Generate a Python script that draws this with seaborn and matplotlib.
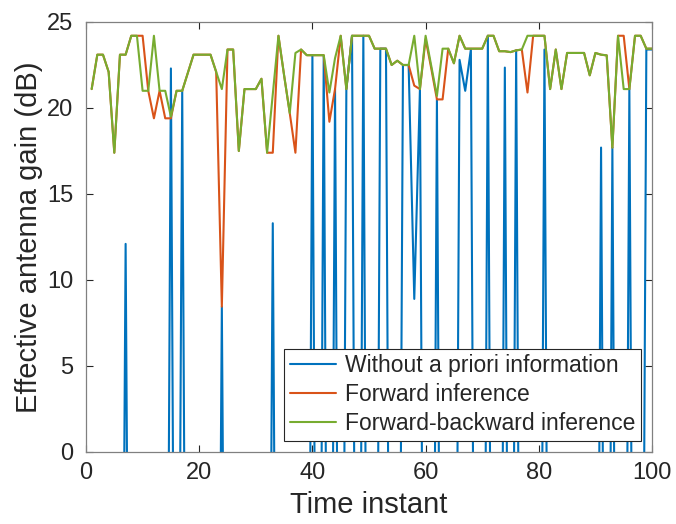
import matplotlib
matplotlib.use("Agg")
import matplotlib.pyplot as plt
import numpy as np
import pandas as pd
import seaborn as sns

LOW = -40.0  # gain floor when the beam misses (drawn below the visible range)

time_instant = list(range(1, 101))

without_prior = [
    LOW, LOW, LOW, LOW, LOW, LOW, 12.1, LOW, LOW, LOW,
    LOW, LOW, LOW, LOW, 22.3, LOW, 21.0, LOW, LOW, LOW,
    LOW, LOW, LOW, 8.45, LOW, LOW, LOW, LOW, LOW, LOW,
    LOW, LOW, 13.3, LOW, LOW, LOW, LOW, LOW, LOW, 23.07,
    LOW, 23.0, LOW, 21.1, LOW, 21.1, 24.2, LOW, 24.2, LOW,
    LOW, 23.45, 23.45, LOW, LOW, 22.5, 22.5, 8.9, 21.1, LOW,
    LOW, 20.5, LOW, LOW, LOW, 22.8, 21.0, 23.4, LOW, LOW,
    24.2, LOW, LOW, 22.35, LOW, 23.35, LOW, LOW, LOW, LOW,
    23.4, LOW, LOW, LOW, LOW, LOW, LOW, LOW, LOW, LOW,
    17.7, LOW, 17.7, LOW, LOW, 21.1, LOW, LOW, 23.4, 23.4,
]

forward = [
    21.1, 23.1, 23.1, 22.1, 17.4, 23.1, 23.1, 24.2, 24.2, 24.2,
    21.0, 19.4, 21.0, 19.4, 19.4, 21.0, 21.0, 22.05, 23.1, 23.1,
    23.1, 23.1, 22.1, 8.45, 23.4, 23.4, 17.5, 21.1, 21.1, 21.1,
    21.7, 17.4, 17.4, 24.2, 21.9, 19.7, 17.4, 23.4, 23.07, 23.07,
    23.07, 23.07, 19.2, 21.1, 24.2, 21.1, 24.2, 24.2, 24.2, 24.2,
    23.45, 23.45, 23.45, 22.5, 22.75, 22.5, 22.5, 21.3, 21.1, 24.0,
    22.3, 20.5, 20.5, 23.45, 22.6, 24.2, 23.45, 23.45, 23.45, 23.45,
    24.2, 24.2, 23.3, 23.3, 23.25, 23.35, 23.4, 20.9, 24.2, 24.2,
    24.2, 21.1, 23.4, 21.1, 23.2, 23.2, 23.2, 23.2, 21.9, 23.2,
    23.1, 23.06, 17.7, 24.2, 24.2, 21.1, 24.2, 24.2, 23.45, 23.45,
]

forward_backward = [
    21.1, 23.1, 23.1, 22.1, 17.4, 23.1, 23.1, 24.2, 24.2, 21.0,
    21.0, 24.2, 21.0, 21.0, 19.5, 21.0, 21.0, 22.05, 23.1, 23.1,
    23.1, 23.1, 22.1, 21.1, 23.4, 23.4, 17.5, 21.1, 21.1, 21.1,
    21.7, 17.4, 20.8, 24.2, 21.9, 19.7, 23.2, 23.4, 23.07, 23.07,
    23.07, 23.07, 20.9, 22.9, 24.2, 21.1, 24.2, 24.2, 24.2, 24.2,
    23.45, 23.45, 23.45, 22.5, 22.75, 22.5, 22.5, 24.2, 21.1, 24.2,
    22.45, 20.7, 23.45, 23.45, 22.6, 24.2, 23.45, 23.45, 23.45, 23.45,
    24.2, 24.2, 23.3, 23.3, 23.25, 23.35, 23.4, 24.2, 24.2, 24.2,
    24.2, 21.1, 23.4, 21.1, 23.2, 23.2, 23.2, 23.2, 21.9, 23.2,
    23.1, 23.06, 17.7, 24.2, 21.1, 21.1, 24.2, 24.2, 23.45, 23.45,
]

series_names = [
    "Without a priori information",
    "Forward inference",
    "Forward-backward inference",
]
colors = ["#0072BD", "#D95319", "#77AC30"]

df = pd.concat(
    [
        pd.DataFrame({"t": time_instant, "gain": vals, "method": name})
        for name, vals in zip(series_names, [without_prior, forward, forward_backward])
    ],
    ignore_index=True,
)

sns.set_style("ticks")
plt.rcParams["font.family"] = ["Liberation Sans", "DejaVu Sans"]

fig = plt.figure(figsize=(6.76, 5.24), dpi=100)
ax = fig.add_axes([86 / 676, 1 - 452 / 524, (652 - 86) / 676, (452 - 22) / 524])

sns.lineplot(
    data=df, x="t", y="gain", hue="method", hue_order=series_names,
    palette=colors, linewidth=1.5, ax=ax, estimator=None, sort=False,
)

ax.set_xlim(0, 100)
ax.set_ylim(0, 25)
ax.set_xticks([0, 20, 40, 60, 80, 100])
ax.set_yticks([0, 5, 10, 15, 20, 25])

text_color = "#262626"
ax.set_xlabel("Time instant", fontsize=21, color=text_color, labelpad=5)
ax.set_ylabel("Effective antenna gain (dB)", fontsize=21, color=text_color, labelpad=3)
ax.tick_params(direction="in", top=True, right=True, length=5, width=0.8,
               colors=text_color, labelsize=17)
ax.tick_params(axis="y", pad=9)
ax.tick_params(axis="x", pad=7)
for side in ["left", "right", "top", "bottom"]:
    ax.spines[side].set_visible(True)
    ax.spines[side].set_color("#808080")
    ax.spines[side].set_linewidth(0.9)

leg = ax.legend(
    loc="lower right", fontsize=16.5, frameon=True, fancybox=False,
    edgecolor="#262626", framealpha=1.0, handlelength=2.0,
    borderaxespad=0.48, borderpad=0.25, labelspacing=0.26, handletextpad=0.4,
)
leg.get_frame().set_linewidth(0.8)
for line in leg.get_lines():
    line.set_linewidth(1.5)

fig.savefig("out.png", dpi=100)
